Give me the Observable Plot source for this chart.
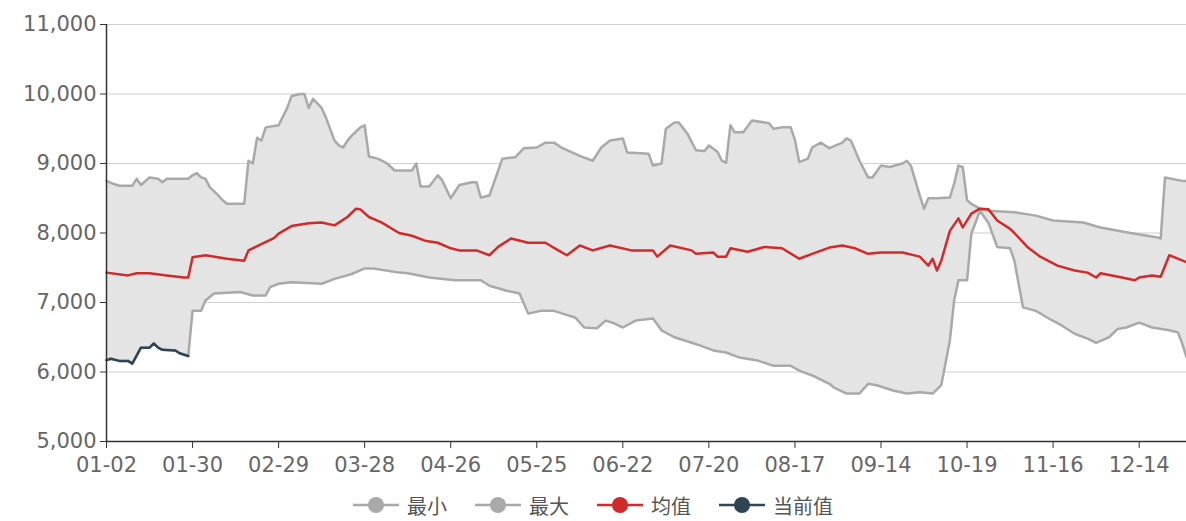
<!DOCTYPE html>
<html>
<head>
<meta charset="utf-8">
<script src="https://cdn.jsdelivr.net/npm/d3@7"></script>
<script src="https://cdn.jsdelivr.net/npm/@observablehq/plot@0.6"></script>
<style>
  body { margin: 0; background: #fff; font-family: "DejaVu Sans", sans-serif; }
  #legend { display: flex; justify-content: center; align-items: center; height: 36px; margin-top: 5px; font-family: "Noto Sans CJK SC", sans-serif; font-size: 20px; color: #555; }
  .item { display: flex; align-items: center; margin: 0 14px; }
  .item svg { margin-right: 8px; }
</style>
</head>
<body>
<div id="chart"></div>
<div id="legend"></div>
<script>
// x = trading-day index; tick labels every 20 trading days
const tickLabels = ["01-02","01-30","02-29","03-28","04-26","05-25","06-22","07-20","08-17","09-14","10-19","11-16","12-14"];
const yTicks = [5000, 6000, 7000, 8000, 9000, 10000, 11000];

// [index, value] breakpoints
const maxPts = [[0,8750],[1,8720],[3,8680],[6,8680],[7,8780],[8,8690],[10,8800],[12,8780],[13,8730],[14,8780],[19,8780],[20,8830],[21,8860],[22,8800],[23,8780],[24,8660],[26,8540],[27,8470],[28,8420],[32,8420],[33,9040],[34,9000],[35,9370],[36,9330],[37,9520],[40,9550],[42,9800],[43,9970],[45,10000],[46,10000],[47,9800],[48,9930],[50,9800],[51,9660],[53,9330],[54,9260],[55,9230],[56,9330],[57,9400],[59,9520],[60,9550],[61,9100],[63,9070],[64,9040],[65,9010],[67,8900],[71,8900],[72,9000],[73,8670],[75,8670],[77,8830],[78,8760],[80,8500],[82,8690],[85,8730],[86,8730],[87,8510],[89,8540],[92,9070],[95,9090],[97,9220],[100,9230],[102,9300],[104,9300],[106,9220],[110,9110],[113,9040],[115,9230],[117,9330],[120,9360],[121,9160],[126,9140],[127,8970],[129,9000],[130,9500],[132,9590],[133,9590],[135,9430],[137,9190],[139,9180],[140,9260],[142,9170],[143,9040],[144,9010],[145,9550],[146,9450],[148,9450],[150,9620],[154,9580],[155,9500],[157,9520],[159,9520],[160,9340],[161,9020],[163,9070],[164,9230],[166,9300],[168,9220],[171,9300],[172,9360],[173,9330],[175,9040],[177,8800],[178,8800],[180,8970],[182,8950],[185,9000],[186,9040],[187,8960],[189,8540],[190,8350],[191,8500],[193,8500],[196,8510],[197,8710],[198,8970],[199,8950],[200,8470],[201,8420],[203,8350],[205,8320],[211,8300],[216,8250],[220,8180],[227,8150],[231,8080],[238,8000],[244,7940],[245,7920],[246,8800],[250,8750],[251,8750]];

const minPts = [[0,6170],[1,6190],[3,6160],[5,6160],[6,6120],[8,6350],[10,6350],[11,6410],[12,6350],[13,6320],[16,6310],[17,6270],[19,6230],[20,6880],[22,6880],[23,7030],[25,7130],[31,7150],[34,7100],[37,7100],[38,7220],[40,7270],[43,7290],[50,7270],[53,7340],[57,7410],[60,7490],[62,7490],[68,7430],[70,7420],[75,7360],[81,7320],[87,7320],[89,7240],[93,7170],[96,7130],[98,6840],[101,6880],[104,6880],[106,6840],[109,6780],[111,6640],[114,6630],[116,6740],[118,6700],[120,6640],[123,6740],[127,6770],[129,6600],[132,6500],[136,6420],[138,6380],[141,6310],[144,6280],[147,6210],[151,6170],[155,6090],[159,6090],[161,6020],[164,5950],[168,5830],[169,5780],[172,5690],[175,5690],[177,5830],[179,5810],[183,5730],[186,5690],[189,5710],[192,5690],[194,5810],[196,6450],[197,7030],[198,7320],[200,7320],[201,7990],[203,8320],[205,8140],[207,7800],[210,7780],[211,7600],[213,6930],[216,6880],[219,6770],[222,6670],[225,6550],[228,6480],[230,6420],[233,6500],[235,6620],[237,6640],[240,6710],[243,6640],[247,6600],[249,6570],[250,6410],[251,6210]];

const meanPts = [[0,7430],[5,7390],[7,7420],[10,7420],[14,7390],[18,7360],[19,7360],[20,7650],[23,7680],[28,7630],[32,7600],[33,7750],[36,7840],[39,7930],[40,7990],[43,8100],[47,8140],[50,8150],[53,8110],[56,8230],[58,8350],[59,8340],[61,8230],[64,8150],[68,8000],[71,7960],[74,7890],[77,7860],[80,7780],[82,7750],[86,7750],[89,7680],[91,7800],[94,7920],[98,7860],[102,7860],[105,7750],[107,7680],[110,7820],[113,7750],[117,7820],[122,7750],[127,7750],[128,7660],[131,7820],[136,7750],[137,7700],[141,7720],[142,7660],[144,7660],[145,7780],[149,7730],[153,7800],[157,7780],[161,7630],[164,7700],[168,7790],[171,7820],[174,7780],[177,7700],[180,7720],[185,7720],[189,7660],[191,7530],[192,7630],[193,7460],[194,7600],[196,8030],[198,8210],[199,8080],[201,8280],[203,8350],[205,8340],[207,8180],[210,8060],[211,8000],[214,7800],[217,7660],[221,7530],[225,7460],[228,7430],[230,7360],[231,7420],[236,7360],[239,7320],[240,7360],[243,7390],[245,7370],[247,7680],[249,7630],[251,7580]];

const currentPts = [[0,6170],[1,6190],[3,6160],[5,6160],[6,6120],[8,6350],[10,6350],[11,6410],[12,6350],[13,6320],[16,6310],[17,6270],[19,6230]];

const seriesNames = ["最小", "最大", "均值", "当前值"];
const seriesColors = ["#a9a9a9", "#a9a9a9", "#d02a2a", "#2f4554"];

const toObj = (pts) => pts.map(([i, v]) => ({i, v}));
const band = toObj(maxPts).concat(toObj(minPts).reverse());

const chart = Plot.plot({
  width: 1186,
  height: 482,
  marginLeft: 106,
  marginRight: 0,
  marginTop: 24,
  marginBottom: 41,
  style: {fontFamily: "DejaVu Sans, sans-serif", fontSize: "21px", background: "#fff", overflow: "visible"},
  x: {domain: [0, 251]},
  y: {domain: [5000, 11000]},
  marks: [
    Plot.gridY(yTicks, {stroke: "#cfcfcf", strokeOpacity: 1, strokeWidth: 1.2}),
    Plot.line(band, {x: "i", y: "v", fill: "#e4e4e4", stroke: "none", curve: "linear"}),
    Plot.line(toObj(minPts), {x: "i", y: "v", stroke: seriesColors[0], strokeWidth: 2.5}),
    Plot.line(toObj(maxPts), {x: "i", y: "v", stroke: seriesColors[1], strokeWidth: 2.5}),
    Plot.line(toObj(meanPts), {x: "i", y: "v", stroke: seriesColors[2], strokeWidth: 2.5}),
    Plot.line(toObj(currentPts), {x: "i", y: "v", stroke: seriesColors[3], strokeWidth: 2.5}),
    Plot.axisY(yTicks, {tickSize: 6, tickPadding: 4, stroke: "#333", fill: "#666", tickFormat: d3.format(","), label: null}),
    Plot.axisX(d3.range(0, 241, 20), {tickSize: 7, tickPadding: 9, stroke: "#333", fill: "#666", tickFormat: (d) => tickLabels[d / 20], label: null}),
    Plot.ruleY([5000], {stroke: "#333", strokeWidth: 1.5}),
    Plot.ruleX([0], {stroke: "#333", strokeWidth: 1.5})
  ]
});
document.getElementById("chart").appendChild(chart);

const legend = document.getElementById("legend");
seriesNames.forEach((name, k) => {
  const item = document.createElement("div");
  item.className = "item";
  item.innerHTML = `<svg width="46" height="20"><line x1="0" y1="10" x2="46" y2="10" stroke="${seriesColors[k]}" stroke-width="2.5"/><circle cx="23" cy="10" r="8" fill="${seriesColors[k]}"/></svg><span>${name}</span>`;
  legend.appendChild(item);
});
</script>
</body>
</html>
